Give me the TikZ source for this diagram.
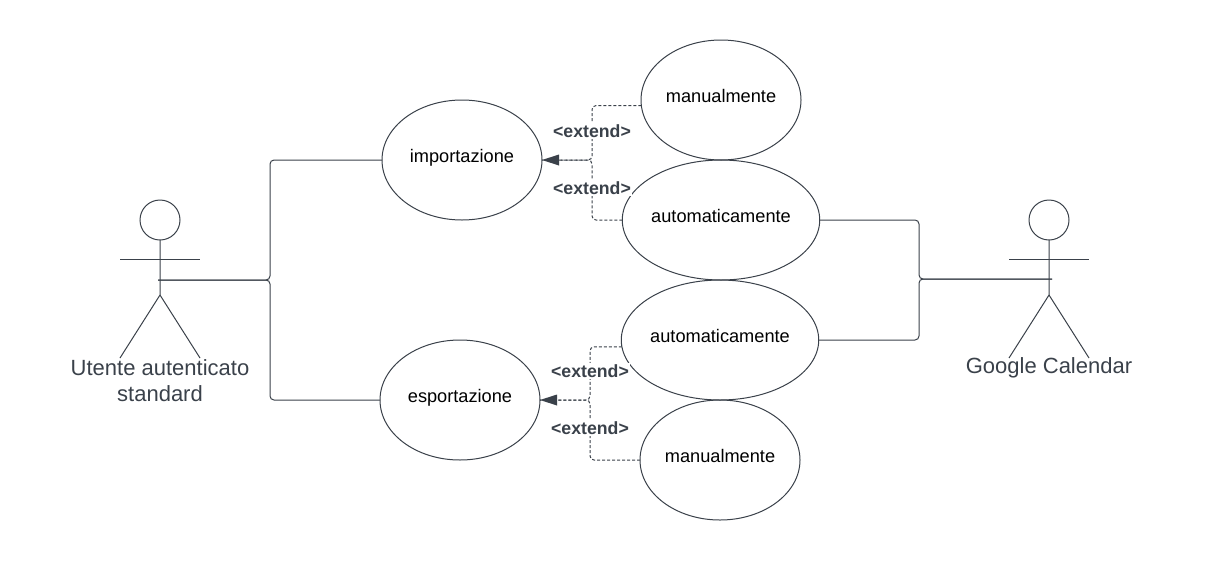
\documentclass[tikz,border=0pt]{standalone}
\usepackage{fontspec}
\setmainfont{Liberation Sans}
\usetikzlibrary{arrows.meta,shapes.geometric}
\definecolor{slate}{HTML}{3A414A}
\tikzset{
  usecase/.style={
    ellipse,
    draw=slate, line width=1pt,
    inner sep=0pt,
    outer sep=0pt,
    minimum width=160pt,
    minimum height=120pt,
    text height=13pt,
    text depth=8pt,
    font=\fontsize{18.2}{22}\selectfont},
  head/.style={circle, draw=slate, line width=1pt, inner sep=0pt, outer sep=0pt, minimum size=40pt},
  limb/.style={draw=slate, line width=1pt},
  assoc/.style={draw=slate, line width=1pt, rounded corners=4pt},
  extendline/.style={draw=slate, line width=1pt, dash pattern=on 3pt off 2pt, rounded corners=4pt},
  extendlabel/.style={fill=white, inner sep=1.5pt, text=slate, font=\bfseries\fontsize{17.7}{22}\selectfont},
  actorlabel/.style={text=slate, align=center, font=\fontsize{22}{26}\selectfont},
}
\begin{document}
\begin{tikzpicture}[x=1pt,y=-1pt]

    \useasboundingbox (0,0) rectangle (1209,560);

    \node[usecase] (imp) at (462,160) {importazione};
    \node[usecase] (man1) at (721,100) {manualmente};
    \node[usecase] (auto1) at (721,220) {automaticamente};
    \node[usecase] (auto2) at (720,340) {automaticamente};
    \node[usecase] (esp) at (460,400) {esportazione};
    \node[usecase] (man2) at (720,460) {manualmente};

    % actors
    \foreach \name/\px in {user/160,cal/1049} {
        \node[head] (\name head) at (\px,220) {};
        \draw[limb] (\name head.south) -- (\px,295) -- (\px-40,358);
        \draw[limb] (\px,295) -- (\px+40,358);
        \draw[limb] (\px-40,259) -- (\px+40,259);
    }
    \node[actorlabel] (userlabel) at (160,381) {Utente autenticato\\standard};
    \node[actorlabel] (callabel) at (1049,368) {Google Calendar};

    \coordinate (userhand) at (158,280);
    \coordinate (calhand) at (1052,279);
    \coordinate (userjoin) at (270,280);
    \coordinate (caljoin) at (919,279);
    \coordinate (impjoin) at (592,160);
    \coordinate (espjoin) at (590,400);

    \draw[assoc] (userhand) -- (userjoin) |- (imp.west);
    \draw[assoc] (userhand) -- (userjoin) |- (esp.west);
    \draw[assoc] (calhand) -- (caljoin) |- (auto1.east);
    \draw[assoc] (calhand) -- (caljoin) |- (auto2.east);

    \draw[extendline] (man1.184) -| (impjoin) -- (imp.east);
    \draw[extendline] (auto1.west) -| (impjoin) -- (imp.east);
    \draw[extendline] (auto2.184) -| (espjoin) -- (esp.east);
    \draw[extendline] (man2.west) -| (espjoin) -- (esp.east);
    \draw[draw=none, fill=slate] (imp.east) -- ++(17,-5.5) -- ++(0,11) -- cycle;
    \draw[draw=none, fill=slate] (esp.east) -- ++(17,-5.5) -- ++(0,11) -- cycle;

    \node[extendlabel] (ext1) at (592,131) {<extend>};
    \node[extendlabel] (ext2) at (592,188) {<extend>};
    \node[extendlabel] (ext3) at (590,371) {<extend>};
    \node[extendlabel] (ext4) at (590,428) {<extend>};

\end{tikzpicture}
\end{document}
